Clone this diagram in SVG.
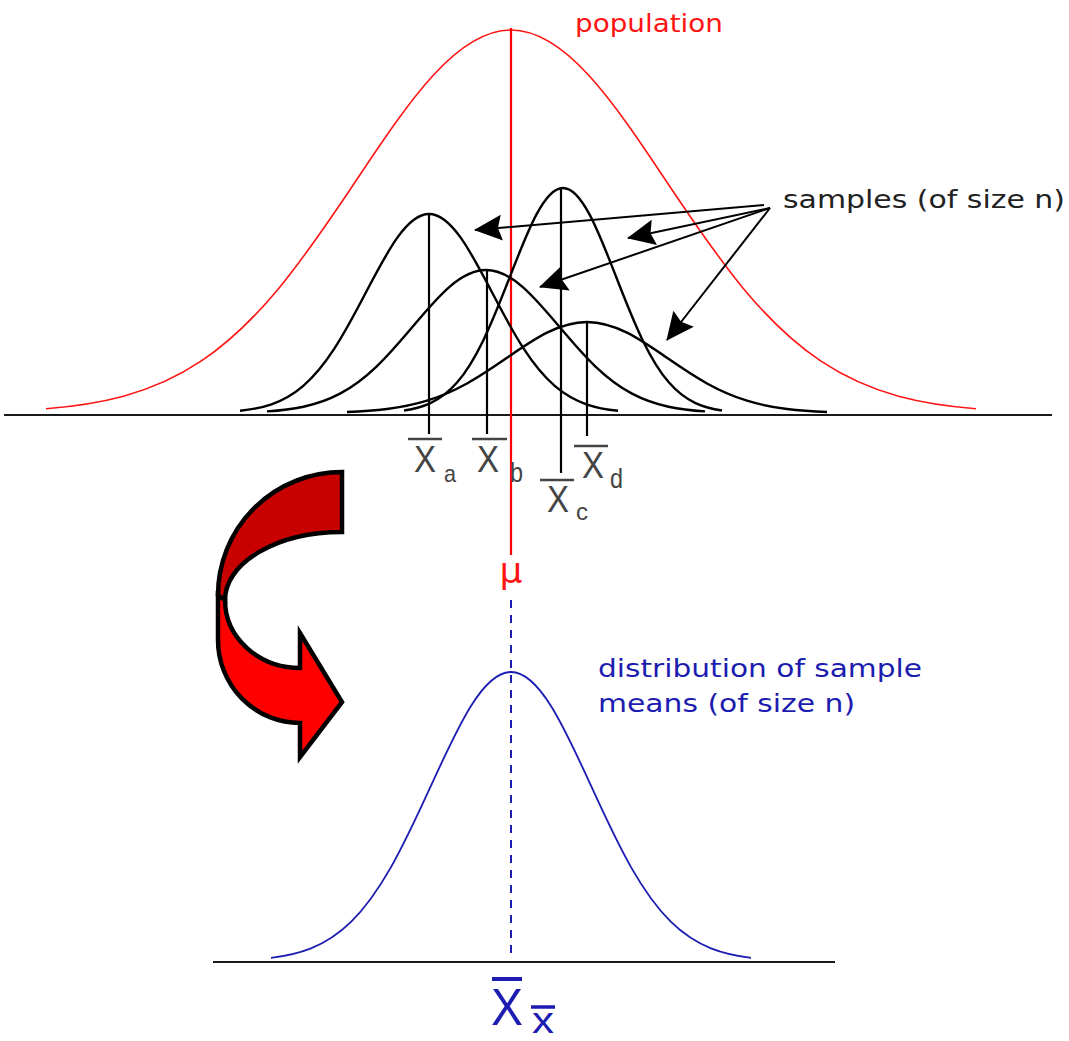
<svg xmlns="http://www.w3.org/2000/svg" width="1069" height="1041" viewBox="0 0 1069 1041">
<style>
.axis{stroke:#1a1a1a;stroke-width:2.2;fill:none}
.samp{stroke:#000;stroke-width:2.4;fill:none}
.pop{stroke:#ff1414;stroke-width:1.6;fill:none}
.mean{stroke:#1c1cb0;stroke-width:1.8;fill:none}
.stem{stroke:#000;stroke-width:2.2}
.bar{stroke:#444;stroke-width:2.5}
.xl{font-family:"Liberation Sans",Arial,sans-serif;fill:#444}
.lbl{font-family:"DejaVu Sans","Noto Sans",sans-serif}
.conn{stroke:#000;stroke-width:2;fill:none}
.blue{fill:#1c1cb0}
</style>
<defs>
<path id="g" vector-effect="non-scaling-stroke" d="M-3,-0.0111 C-2.8333,-0.0167 -2.6667,-0.0256 -2.5,-0.0439 C-2.3333,-0.0622 -2.1667,-0.0902 -2,-0.1353 C-1.8333,-0.1804 -1.6667,-0.2435 -1.5,-0.3247 C-1.3333,-0.4059 -1.1667,-0.5054 -1,-0.6065 C-0.8333,-0.7076 -0.6667,-0.809 -0.5,-0.8825 C-0.3333,-0.956 -0.1667,-1 0,-1 C0.1667,-1 0.3333,-0.956 0.5,-0.8825 C0.6667,-0.809 0.8333,-0.7076 1,-0.6065 C1.1667,-0.5054 1.3333,-0.4059 1.5,-0.3247 C1.6667,-0.2435 1.8333,-0.1804 2,-0.1353 C2.1667,-0.0902 2.3333,-0.0622 2.5,-0.0439 C2.6667,-0.0256 2.8333,-0.0167 3,-0.0111"/>
<marker id="ah" markerUnits="userSpaceOnUse" markerWidth="28" markerHeight="26" viewBox="0 0 28 26" refX="27" refY="13" orient="auto">
<path d="M0,0 L28,13 L0,26 L4,13 z" fill="#000"/>
</marker>
</defs>
<rect width="1069" height="1041" fill="#fff"/>

<g id="axes">
<line class="axis" x1="4" y1="415" x2="1052" y2="415"/>
<line class="axis" x1="213" y1="962" x2="835" y2="962"/>
</g>

<g id="population">
<use href="#g" class="pop" transform="translate(511,413) scale(155,383)"/>
<line x1="511" y1="28" x2="511" y2="555" stroke="#ff0000" stroke-width="2.2"/>
<text class="lbl" x="575" y="32" font-size="25" fill="#ff1414" textLength="148" lengthAdjust="spacingAndGlyphs">population</text>
<text class="lbl" x="511" y="583" font-size="36" fill="#ff1414" text-anchor="middle">μ</text>
</g>

<g id="sample-a">
<use href="#g" class="samp" transform="translate(429,413) scale(63,199)"/>
<line class="stem" x1="429" y1="214" x2="429" y2="434"/>
<line class="bar" x1="408" y1="439" x2="442" y2="439"/>
<text class="xl" x="425" y="472" font-size="36" text-anchor="middle" textLength="22" lengthAdjust="spacingAndGlyphs">X</text>
<text class="xl" x="444" y="482" font-size="24" textLength="12" lengthAdjust="spacingAndGlyphs">a</text>
</g>

<g id="sample-b">
<use href="#g" class="samp" transform="translate(486,413) scale(73,143)"/>
<line class="stem" x1="487" y1="270" x2="487" y2="434"/>
<line class="bar" x1="472" y1="439" x2="507" y2="439"/>
<text class="xl" x="488" y="472" font-size="36" text-anchor="middle" textLength="22" lengthAdjust="spacingAndGlyphs">X</text>
<text class="xl" x="510" y="482" font-size="27" textLength="13" lengthAdjust="spacingAndGlyphs">b</text>
</g>

<g id="sample-c">
<use href="#g" class="samp" transform="translate(563,413) scale(53,225)"/>
<line class="stem" x1="561" y1="188" x2="561" y2="473"/>
<line class="bar" x1="540" y1="480" x2="574" y2="480"/>
<text class="xl" x="558" y="512" font-size="36" text-anchor="middle" textLength="22" lengthAdjust="spacingAndGlyphs">X</text>
<text class="xl" x="576" y="520" font-size="24" textLength="12" lengthAdjust="spacingAndGlyphs">c</text>
</g>

<g id="sample-d">
<use href="#g" class="samp" transform="translate(587,413) scale(80,91)"/>
<line class="stem" x1="587" y1="322" x2="587" y2="436"/>
<line class="bar" x1="574" y1="446" x2="608" y2="446"/>
<text class="xl" x="593" y="478" font-size="36" text-anchor="middle" textLength="22" lengthAdjust="spacingAndGlyphs">X</text>
<text class="xl" x="610" y="488" font-size="27" textLength="13" lengthAdjust="spacingAndGlyphs">d</text>
</g>

<g id="samples-label">
<text class="lbl" x="783" y="208" font-size="25" fill="#222" textLength="282" lengthAdjust="spacingAndGlyphs">samples (of size n)</text>
</g>

<g id="connectors">
<line class="conn" x1="764" y1="205" x2="475" y2="230" marker-end="url(#ah)"/>
<line class="conn" x1="770" y1="208" x2="628" y2="238" marker-end="url(#ah)"/>
<line class="conn" x1="770" y1="208" x2="540" y2="287" marker-end="url(#ah)"/>
<line class="conn" x1="770" y1="208" x2="667" y2="340" marker-end="url(#ah)"/>
<line x1="511" y1="600" x2="511" y2="960" stroke="#1c1cb0" stroke-width="2" stroke-dasharray="8 7"/>
</g>

<g id="curved-arrow" stroke="#000" stroke-width="4.5" stroke-linejoin="miter">
<path fill="#ff0000" d="M218,595 L218,640 A82,83 0 0 0 300,723 L300,757 L342,702 L300,633 L300,668 A75,68 0 0 1 225,600 Z"/>
<path fill="#c80000" d="M342,472 A124,123 0 0 0 218,595 L225,600 A117,68 0 0 1 342,532 Z"/>
</g>

<g id="sample-means">
<use href="#g" class="mean" transform="translate(511,961) scale(80,289)"/>
<text class="lbl blue" x="598" y="677" font-size="25" textLength="324" lengthAdjust="spacingAndGlyphs">distribution of sample</text>
<text class="lbl blue" x="598" y="712" font-size="25" textLength="257" lengthAdjust="spacingAndGlyphs">means (of size n)</text>
<line x1="492" y1="979" x2="522" y2="979" stroke="#1c1cb0" stroke-width="4"/>
<text class="xl blue" x="491" y="1025" font-size="52" textLength="32" lengthAdjust="spacingAndGlyphs">X</text>
<line x1="531" y1="1007" x2="555" y2="1007" stroke="#1c1cb0" stroke-width="3.5"/>
<text class="xl blue" x="532" y="1033" font-size="36" textLength="22" lengthAdjust="spacingAndGlyphs">x</text>
</g>
</svg>
